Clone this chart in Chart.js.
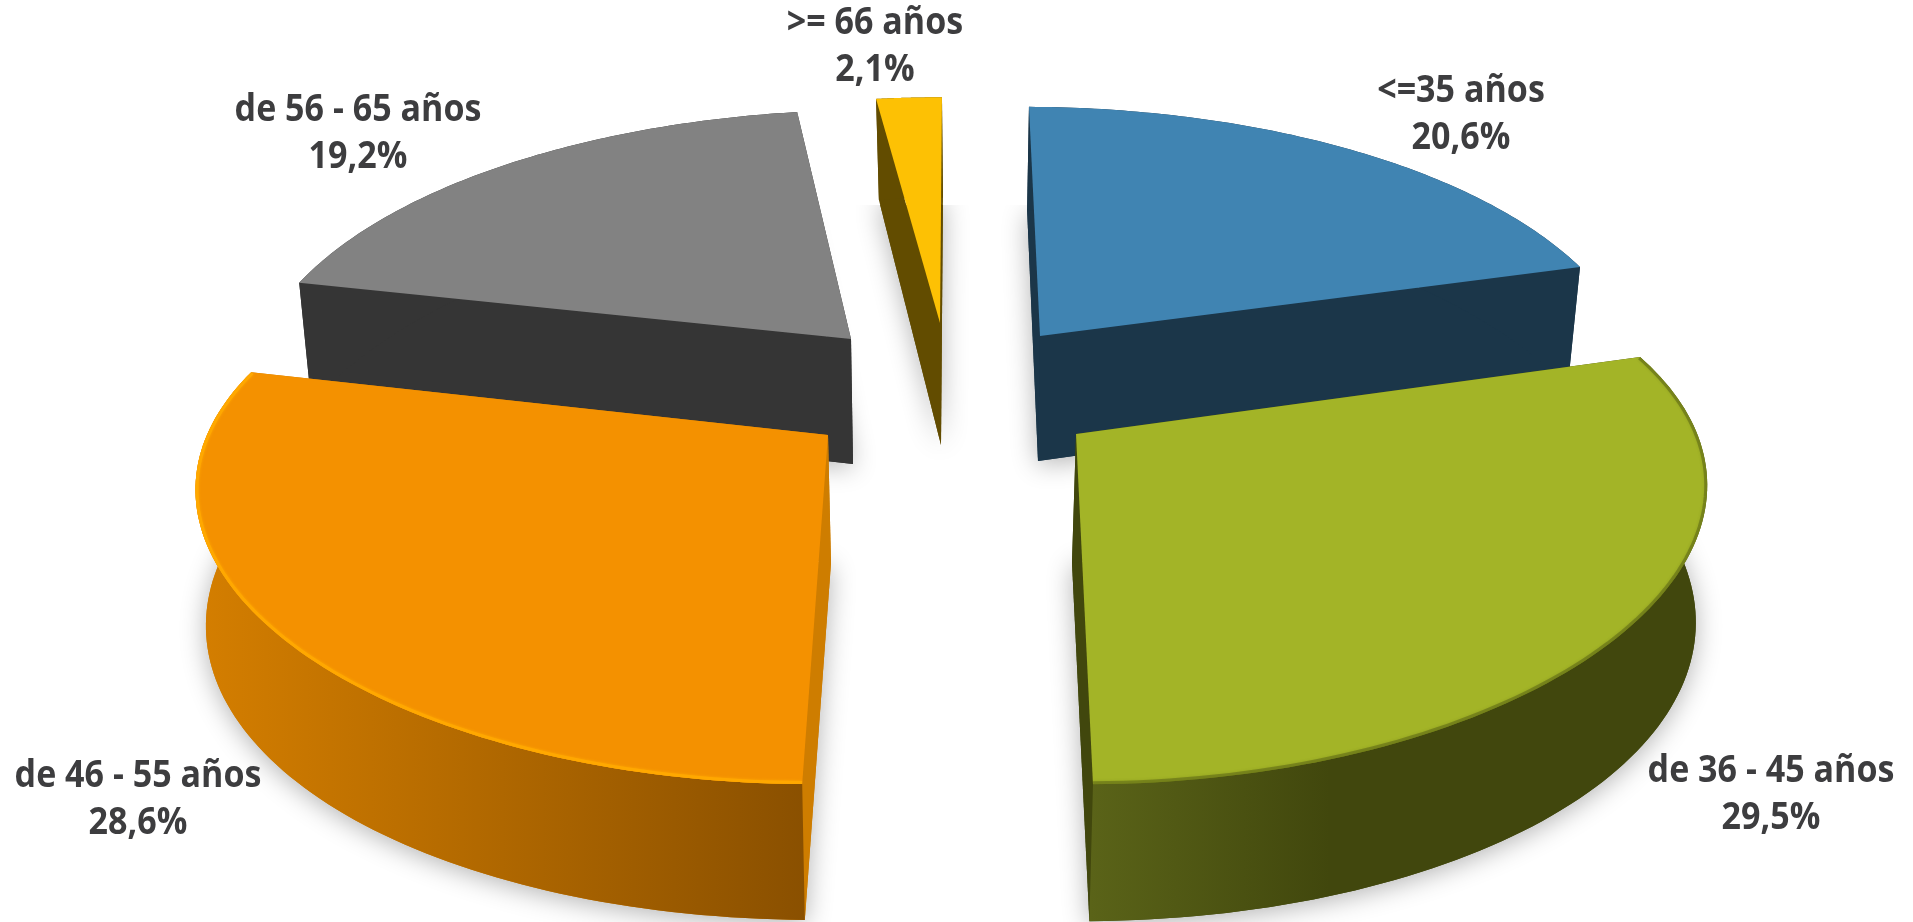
<!DOCTYPE html>
<html lang="es">
<head>
<meta charset="utf-8">
<title>Edad</title>
<script src="https://cdn.jsdelivr.net/npm/chart.js@4/dist/chart.umd.js"></script>
<style>
  html, body { margin: 0; padding: 0; background: #fff; overflow: hidden; }
  canvas { display: block; }
</style>
</head>
<body>
<canvas id="myChart" width="1913" height="922"></canvas>
<script>
const categories = ["<=35 años", "de 36 - 45 años", "de 46 - 55 años", "de 56 - 65 años", ">= 66 años"];
const shares = [20.6, 29.5, 28.6, 19.2, 2.1];

const topColors = ["#4084b2", "#a3b427", "#f49100", "#828282", "#fdc104"];
const wallColors = ["#1b3649", "#41470d", "#ce7d00", "#353535", "#624c00"];
// rim shading: [x start, colour, x end, colour]
const rimShades = [
  null,
  [1090, "#5a6318", 1330, "#41470d"],
  [200, "#d47e00", 805, "#8a5000"],
  null,
  null,
];
const rimLines = [null, "rgba(70,78,14,0.4)", "#ffa800", null, null];

// how each slice is pulled away from the pie centre (px)
const explodeX = [83.5, 119.5, -128.5, -105.5, -16.5];
const explodeY = [-125, -27, -26, -122, -138];
// apex shift of the lower face
const depthX = [-2, -4, 3, 2, 1];
const depthY = [125, 129, 128, 125, 122];
// plane tilt, in multiples of the pie radius
const spreadU = [1.282, 1.342, 1.345, 1.286, 1.269];
const driftU = [0.006, -0.013, 0.005, -0.011, 0];
const skewV = [0.028, 0.039, -0.038, -0.033, -0.005];
const spreadV = [0.601, 0.601, 0.599, 0.601, 0.592];

const labelX = [1461, 1771, 138, 358, 875];
const labelY = [102, 782, 787, 121, 34];
const lineGap = 47;

function project(i, arc, angle, low) {
  const u = Math.cos(angle);
  const v = Math.sin(angle);
  // perspective: the near side of the pie looks bigger
  const wx = 1 / (1 - (low ? 0.185 : 0.17) * v);
  const wy = 1 / (1 - (low ? 0.176 : 0.209) * v);
  const sx = low ? 0.985 : 1;
  const sy = low ? 1.065 : 1;
  const r = arc.outerRadius;
  return {
    x: arc.x + explodeX[i] + (low ? depthX[i] : 0) + (spreadU[i] * sx * u + skewV[i] * v) * wx * r,
    y: arc.y + explodeY[i] + (low ? depthY[i] : 0) + (driftU[i] * u + spreadV[i] * sy * v) * wy * r,
  };
}

function apex(i, arc, low) {
  return {
    x: arc.x + explodeX[i] + (low ? depthX[i] : 0),
    y: arc.y + explodeY[i] + (low ? depthY[i] : 0),
  };
}

function rim(i, arc, low) {
  const pts = [];
  const steps = 90;
  for (let s = 0; s <= steps; s++) {
    const a = arc.startAngle + ((arc.endAngle - arc.startAngle) * s) / steps;
    pts.push(project(i, arc, a, low));
  }
  return pts;
}

function tracePoly(ctx, pts) {
  ctx.beginPath();
  pts.forEach((p, n) => (n ? ctx.lineTo(p.x, p.y) : ctx.moveTo(p.x, p.y)));
}

function fillPoly(ctx, pts, color) {
  tracePoly(ctx, pts);
  ctx.closePath();
  ctx.fillStyle = color;
  ctx.fill();
}

function drawSlice(ctx, i, arc) {
  const top = rim(i, arc, false);
  const low = rim(i, arc, true);
  const a0 = apex(i, arc, false);
  const a1 = apex(i, arc, true);

  // cut walls
  fillPoly(ctx, [a0, top[top.length - 1], low[low.length - 1], a1], wallColors[i]);
  fillPoly(ctx, [a0, top[0], low[0], a1], wallColors[i]);

  // outer wall
  let rimFill = wallColors[i];
  const shade = rimShades[i];
  if (shade) {
    rimFill = ctx.createLinearGradient(shade[0], 0, shade[2], 0);
    rimFill.addColorStop(0, shade[1]);
    rimFill.addColorStop(1, shade[3]);
  }
  fillPoly(ctx, top.concat(low.slice().reverse()), rimFill);

  // top face
  const face = [a0].concat(top);
  fillPoly(ctx, face, topColors[i]);

  if (rimLines[i]) {
    ctx.save();
    tracePoly(ctx, face);
    ctx.closePath();
    ctx.clip();
    tracePoly(ctx, top);
    ctx.strokeStyle = rimLines[i];
    ctx.lineWidth = 6;
    ctx.shadowColor = rimLines[i];
    ctx.shadowBlur = 3;
    ctx.stroke();
    ctx.restore();
  }
}

const pie3d = {
  id: "pie3d",
  beforeDatasetsDraw(chart) {
    const ctx = chart.ctx;
    const arcs = chart.getDatasetMeta(0).data;

    // soft shadow under every slice, cut flat on top like the original
    ctx.save();
    ctx.beginPath();
    ctx.rect(0, 205, chart.width, chart.height - 205);
    ctx.clip();
    ctx.shadowColor = "rgba(0,0,0,0.3)";
    ctx.shadowBlur = 26;
    ctx.shadowOffsetY = 4;
    arcs.forEach((arc, i) => {
      fillPoly(ctx, [apex(i, arc, true)].concat(rim(i, arc, true)), wallColors[i]);
    });
    ctx.restore();

    // back slices first so the front ones lap over them
    [4, 3, 0, 1, 2].forEach((i) => drawSlice(ctx, i, arcs[i]));
    return false;
  },
  afterDraw(chart) {
    const ctx = chart.ctx;
    ctx.save();
    ctx.fillStyle = "#3d3d3f";
    ctx.font = 'bold 37px "Open Sans"';
    ctx.textAlign = "center";
    ctx.textBaseline = "alphabetic";
    categories.forEach((name, i) => {
      const pct = String(shares[i]).replace(".", ",") + "%";
      [name, pct].forEach((text, n) => {
        ctx.save();
        ctx.translate(labelX[i], labelY[i] + n * lineGap);
        ctx.scale(0.92, 1);
        ctx.fillText(text, 0, 0);
        ctx.restore();
      });
    });
    ctx.restore();
  },
};

const ctx = document.getElementById("myChart").getContext("2d");
const myChart = new Chart(ctx, {
  type: "pie",
  data: {
    labels: categories,
    datasets: [
      {
        data: shares,
        backgroundColor: topColors,
        borderWidth: 0,
      },
    ],
  },
  options: {
    responsive: false,
    animation: false,
    layout: { padding: 0 },
    plugins: {
      legend: { display: false },
      tooltip: { enabled: false },
    },
  },
  plugins: [pie3d],
});
</script>
</body>
</html>
